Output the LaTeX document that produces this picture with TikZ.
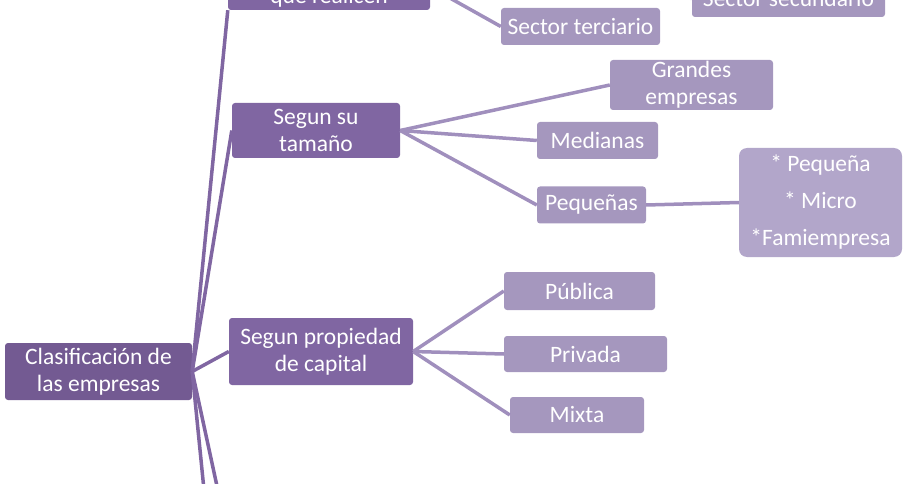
\documentclass[tikz,border=0pt]{standalone}
\usepackage{fontspec}
\setmainfont{Carlito}
\begin{document}
\begin{tikzpicture}[x=1pt,y=-1pt,
  every node/.style={font=\fontsize{23.5}{27}\selectfont, text=white, align=center, inner sep=0pt, rounded corners=3pt},
  lvl0/.style={fill=c0},
  lvl1/.style={fill=c1},
  lvl2/.style={fill=c2},
  lvl3/.style={fill=c3, rounded corners=8pt},
  link0/.style={draw=c1, line width=3.5pt},
  link1/.style={draw=l1, line width=3.5pt}]
\definecolor{c0}{HTML}{735A92}
\definecolor{c1}{HTML}{8066A2}
\definecolor{c2}{HTML}{A597BE}
\definecolor{c3}{HTML}{B2A6CA}
\definecolor{l1}{HTML}{A08FBD}
\useasboundingbox (0,0) rectangle (922,484);
\clip (0,0) rectangle (922,484);
\node[lvl0, minimum width=187pt, minimum height=57pt] (root) at (98.5,371.5) {Clasificación de\\las empresas};
\node[lvl1, minimum width=202pt, minimum height=46pt] (act) at (329,-13) {};
\node[anchor=base] (actlbl) at (329,4) {que realicen};
\node[lvl1, minimum width=168pt, minimum height=55pt] (tam) at (316,130.5) {Segun su\\tamaño};
\node[lvl1, minimum width=184pt, minimum height=67pt] (prop) at (321,351.5) {Segun propiedad\\de capital};
\coordinate (d1) at (205,500);
\coordinate (d2) at (220,500);
\node[lvl2, minimum width=159pt, minimum height=37pt] (ter) at (580.5,26.5) {Sector terciario};
\node[lvl2, minimum width=193pt, minimum height=37pt] (sec) at (788.5,-1.5) {Sector secundario};
\coordinate (seca) at (600,-30);
\node[lvl2, minimum width=163pt, minimum height=50pt] (gra) at (691.5,85) {Grandes\\empresas};
\node[lvl2, minimum width=121pt, minimum height=37pt] (med) at (597.5,140.5) {Medianas};
\node[lvl2, minimum width=109pt, minimum height=37pt] (peq) at (591.5,205) {Pequeñas};
\node[lvl3, minimum width=163pt, minimum height=109pt, align=center] (lst) at (820.5,202.5) {* Pequeña\\[10pt]* Micro\\[10pt]*Famiempresa};
\node[lvl2, minimum width=151pt, minimum height=38pt] (pub) at (579.5,291) {Pública};
\node[lvl2, minimum width=163pt, minimum height=36pt] (pri) at (585.5,354) {Privada};
\node[lvl2, minimum width=134pt, minimum height=36pt] (mix) at (577,415) {Mixta};
\draw[link0] (root.east) -- (act.south west);
\draw[link0] (root.east) -- (tam.west);
\draw[link0] (root.east) -- (prop.west);
\draw[link0] (root.east) -- (d1);
\draw[link0] (root.east) -- (d2);
\draw[link1] (act.east) -- (ter.west);
\draw[link1] (seca) -- (sec.west);
\draw[link1] (tam.east) -- (gra.west);
\draw[link1] (tam.east) -- (med.west);
\draw[link1] (tam.east) -- (peq.west);
\draw[link1] (peq.east) -- (lst.west);
\draw[link1] (prop.east) -- (pub.west);
\draw[link1] (prop.east) -- (pri.west);
\draw[link1] (prop.east) -- (mix.west);
\end{tikzpicture}
\end{document}
